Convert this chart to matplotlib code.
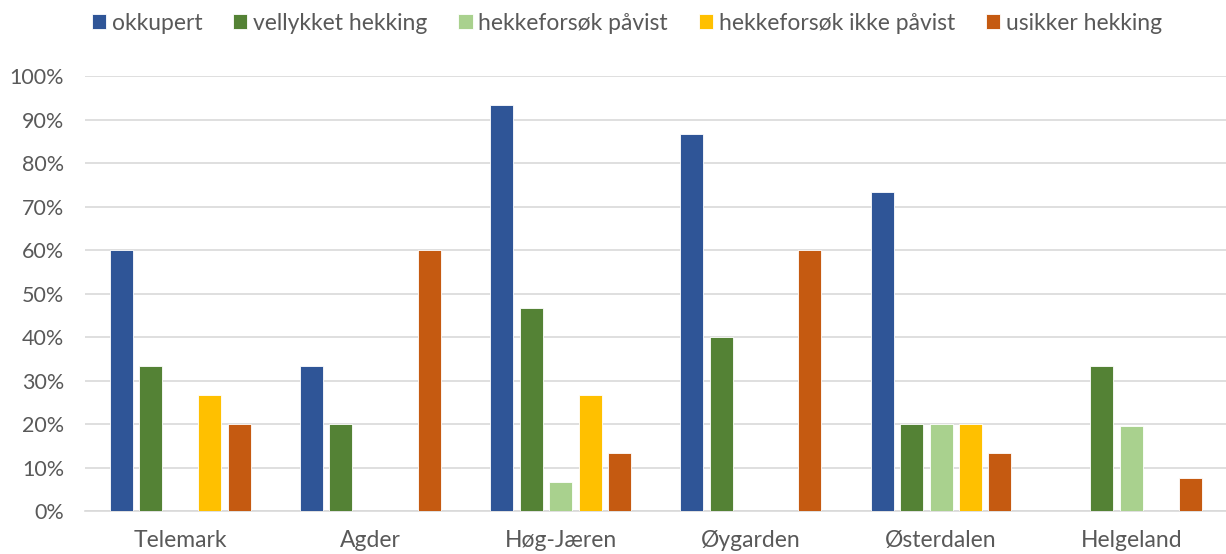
import numpy as np
import matplotlib.pyplot as plt
from matplotlib.ticker import PercentFormatter

# data
regions = ['Telemark', 'Agder', 'Høg-Jæren', 'Øygarden', 'Østerdalen', 'Helgeland']
series = ['okkupert', 'vellykket hekking', 'hekkeforsøk påvist',
          'hekkeforsøk ikke påvist', 'usikker hekking']
okkupert = [60.0, 33.3, 93.3, 86.7, 73.3, 0.0]
vellykket = [33.3, 20.0, 46.7, 40.0, 20.0, 33.3]
pavist = [0.0, 0.0, 6.7, 0.0, 20.0, 19.5]
ikke_pavist = [26.7, 0.0, 26.7, 0.0, 20.0, 0.0]
usikker = [20.0, 60.0, 13.3, 60.0, 13.3, 7.7]
colors = ['#2F5597', '#548235', '#A9D18E', '#FFC000', '#C55A11']

plt.rcParams['font.family'] = ['Lato', 'DejaVu Sans']
grey = '#595959'

fig = plt.figure(figsize=(12.26, 5.54), dpi=100)
ax = fig.add_axes([0.0693, 0.0776, 0.931, 0.7852])

x = np.arange(len(regions))
step = 0.155
width = 0.121
allvals = [okkupert, vellykket, pavist, ikke_pavist, usikker]
for i, (vals, name, c) in enumerate(zip(allvals, series, colors)):
    ax.bar(x + (i - 2) * step, vals, width, color=c, label=name,
           edgecolor='white', linewidth=0.6, zorder=3)

ax.set_xlim(-0.5, len(regions) - 0.5)
ax.set_ylim(0, 100)
ax.set_yticks(np.arange(0, 101, 10))
ax.yaxis.set_major_formatter(PercentFormatter(decimals=0))
ax.set_xticks(x)
ax.set_xticklabels(regions)
ax.grid(axis='y', color='#D9D9D9', linewidth=1.2, zorder=0)
for s in ['top', 'right', 'left']:
    ax.spines[s].set_visible(False)
ax.spines['bottom'].set_color('#D9D9D9')
ax.spines['bottom'].set_linewidth(1.2)
ax.tick_params(axis='y', length=0, labelsize=15.5, colors=grey, pad=15)
ax.tick_params(axis='x', length=0, labelsize=16.5, colors=grey, pad=14)

leg = fig.legend(loc='upper left', bbox_to_anchor=(0.058, 1.014), ncol=5,
                 frameon=False, fontsize=16.5, handlelength=0.62,
                 handleheight=0.62, handletextpad=0.25, columnspacing=1.35)
for t in leg.get_texts():
    t.set_color(grey)

fig.savefig('out.png', dpi=100)
